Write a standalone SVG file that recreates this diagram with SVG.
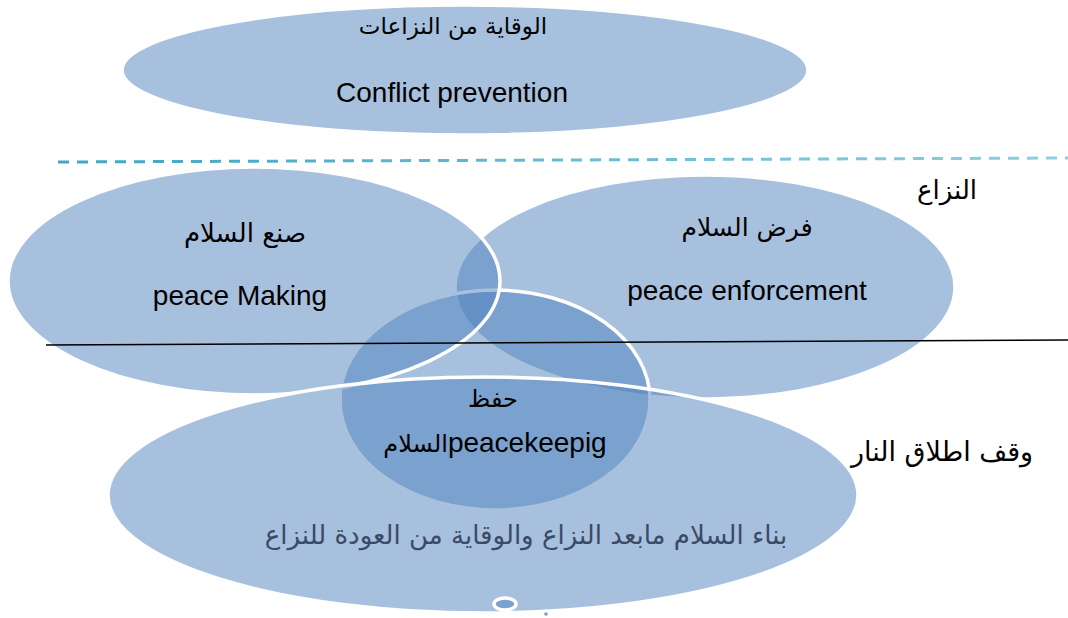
<svg xmlns="http://www.w3.org/2000/svg" width="1068" height="618" viewBox="0 0 1068 618">
  <defs>
    <linearGradient id="dashGrad" gradientUnits="userSpaceOnUse" x1="58" y1="0" x2="1068" y2="0">
      <stop offset="0" stop-color="#3FA6C4"/>
      <stop offset="1" stop-color="#8ED0E2"/>
    </linearGradient>
  </defs>
  <style>
    .blob { fill: #4F81BD; fill-opacity: 0.5; stroke: #FFFFFF; stroke-width: 3.5; }
    .en { font-family: "Liberation Sans", Arial, sans-serif; font-size: 28px; fill: #000000; text-anchor: middle; }
    .ar { font-family: "DejaVu Sans", "Liberation Sans", sans-serif; font-size: 24px; fill: #000000; text-anchor: middle; }
    .arBig { font-family: "DejaVu Sans", "Liberation Sans", sans-serif; font-size: 26px; fill: #000000; text-anchor: middle; }
  </style>
  <rect width="1068" height="618" fill="#FFFFFF"/>

  <g id="prevention">
    <ellipse class="blob" cx="465" cy="70" rx="343" ry="65"/>
    <text class="ar" x="453" y="34" style="font-size:23px">الوقاية من النزاعات</text>
    <text class="en" x="452" y="102">Conflict prevention</text>
  </g>

  <g id="enforcement">
    <ellipse class="blob" cx="705" cy="287" rx="250" ry="112"/>
  </g>

  <g id="keeping">
    <ellipse class="blob" cx="495" cy="400" rx="155" ry="110"/>
  </g>

  <g id="making">
    <ellipse class="blob" cx="254" cy="281" rx="246" ry="114"/>
  </g>

  <g id="building">
    <ellipse class="blob" cx="483" cy="495" rx="375" ry="118"/>
    <ellipse cx="505" cy="604" rx="11" ry="6" fill="#7BA1CE" stroke="#FFFFFF" stroke-width="3.5"/>
    <circle cx="546" cy="614" r="4.5" fill="#FFFFFF"/>
    <circle cx="546" cy="614" r="1.8" fill="#7BA1CE"/>
  </g>

  <g id="connectors">
    <line x1="58" y1="162" x2="1068" y2="158" stroke="url(#dashGrad)" stroke-width="3" stroke-dasharray="11 8"/>
    <line x1="46" y1="345" x2="1068" y2="340" stroke="#000000" stroke-width="1.6"/>
  </g>

  <g id="labels">
    <text class="ar" x="245" y="242" style="font-size:26px">صنع السلام</text>
    <text class="en" x="240" y="305">peace Making</text>
    <text class="ar" x="747" y="236" style="font-size:25px">فرض السلام</text>
    <text class="en" x="747" y="300">peace enforcement</text>
    <text class="ar" x="493" y="407">حفظ</text>
    <text class="en" x="495" y="452" direction="ltr"><tspan style="font-family:'DejaVu Sans','Liberation Sans',sans-serif;font-size:24px">السلام</tspan>peacekeepig</text>
    <text class="arBig" x="947" y="199">النزاع</text>
    <text class="arBig" x="942" y="461" style="font-size:27px">وقف اطلاق النار</text>
    <text class="ar" x="526" y="544" style="fill:#3B4A66;font-size:26px">بناء السلام مابعد النزاع والوقاية من العودة للنزاع</text>
  </g>
</svg>
